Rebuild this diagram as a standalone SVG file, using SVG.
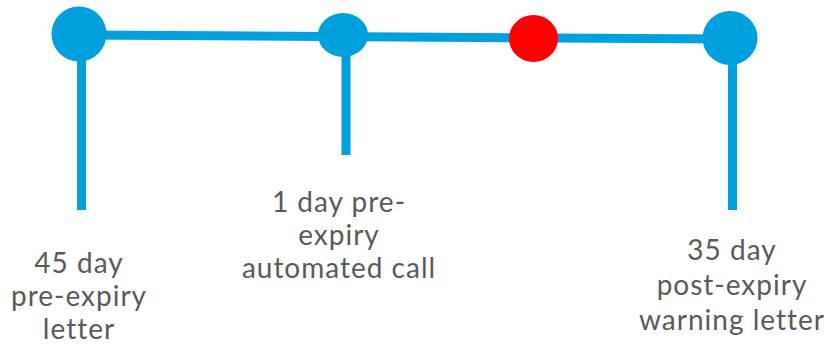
<svg xmlns="http://www.w3.org/2000/svg" width="826" height="345" viewBox="0 0 826 345">
<style>
.ln{stroke:#00A0DF;stroke-width:9;fill:none}
.nd{fill:#00A0DF}
.red{fill:#FF0000}
text{font-family:Lato,"Liberation Sans",sans-serif;font-size:28px;letter-spacing:1px;fill:#5a5a5a;text-anchor:middle}
</style>
<rect width="826" height="345" fill="#fff"/>
<g id="connectors">
<line class="ln" x1="79" y1="35" x2="730" y2="39"/>
<line class="ln" x1="81.5" y1="34" x2="81.5" y2="210"/>
<line class="ln" x1="346" y1="35" x2="346" y2="155"/>
<line class="ln" x1="732.5" y1="38" x2="732.5" y2="210"/>
</g>
<g id="node1"><circle class="nd" cx="79" cy="34" r="27.5"/></g>
<g id="node2"><ellipse class="nd" cx="343" cy="35" rx="25" ry="22"/></g>
<g id="node3"><ellipse class="red" cx="533.5" cy="38.5" rx="24.5" ry="23.5"/></g>
<g id="node4"><ellipse class="nd" cx="730" cy="38" rx="27.5" ry="27"/></g>
<g id="label1"><text x="79" y="273">45 day</text><text x="79" y="306">pre-expiry</text><text x="79" y="339">letter</text></g>
<g id="label2"><text x="339" y="212">1 day pre-</text><text x="339" y="245">expiry</text><text x="339" y="278">automated call</text></g>
<g id="label3"><text x="732" y="260">35 day</text><text x="732" y="295">post-expiry</text><text x="732" y="330">warning letter</text></g>
</svg>
